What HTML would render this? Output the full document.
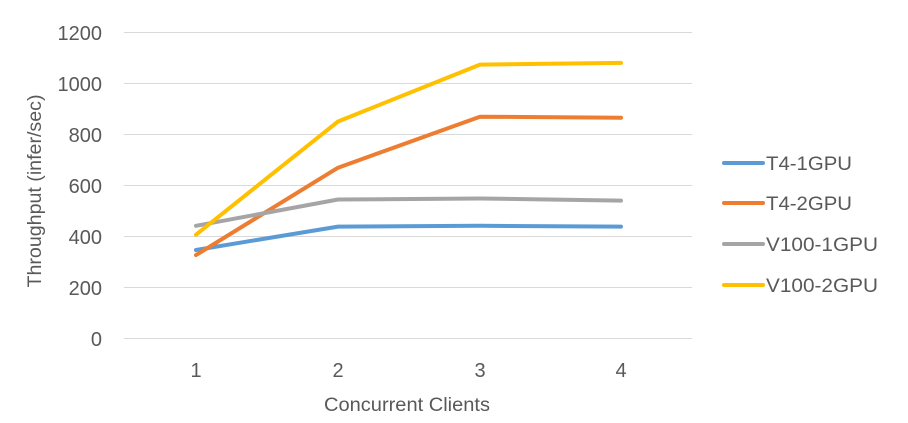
<!DOCTYPE html>
<html><head><meta charset="utf-8"><style>
html,body{margin:0;padding:0;background:#fff;}
svg{display:block;font-family:"Liberation Sans",sans-serif;}
</style></head><body>
<svg width="908" height="423" viewBox="0 0 908 423">
<g stroke="#d9d9d9" stroke-width="1">
<line x1="124" x2="692" y1="32.5" y2="32.5"/>
<line x1="124" x2="692" y1="83.5" y2="83.5"/>
<line x1="124" x2="692" y1="134.5" y2="134.5"/>
<line x1="124" x2="692" y1="185.5" y2="185.5"/>
<line x1="124" x2="692" y1="236.5" y2="236.5"/>
<line x1="124" x2="692" y1="287.5" y2="287.5"/>
<line x1="124" x2="692" y1="338.5" y2="338.5"/>
</g>
<g fill="#595959" font-size="20" text-anchor="end">
<text x="102" y="40">1200</text>
<text x="102" y="91">1000</text>
<text x="102" y="142">800</text>
<text x="102" y="193">600</text>
<text x="102" y="244">400</text>
<text x="102" y="295">200</text>
<text x="102" y="346">0</text>
</g>
<g fill="#595959" font-size="20" text-anchor="middle">
<text x="196" y="377">1</text>
<text x="338" y="377">2</text>
<text x="480" y="377">3</text>
<text x="621" y="377">4</text>
<text x="407" y="411" font-size="19" textLength="166" lengthAdjust="spacingAndGlyphs">Concurrent Clients</text>
<text transform="translate(41,191) rotate(-90)" font-size="19" textLength="193" lengthAdjust="spacingAndGlyphs">Throughput (infer/sec)</text>
</g>
<g fill="none" stroke-width="4" stroke-linecap="round" stroke-linejoin="round">
<polyline stroke="#5b9bd5" points="196,250 338,226.6 480,225.8 621,226.6"/>
<polyline stroke="#ed7d31" points="196,255.1 338,167.7 480,116.7 621,117.7"/>
<polyline stroke="#a5a5a5" points="196,225.8 338,199.5 480,198.5 621,200.6"/>
<polyline stroke="#ffc000" points="196,234.7 338,121.5 480,64.6 621,62.9"/>
</g>
<g stroke-width="4" stroke-linecap="round">
<line x1="724" x2="763" y1="163" y2="163" stroke="#5b9bd5"/>
<line x1="724" x2="763" y1="203" y2="203" stroke="#ed7d31"/>
<line x1="724" x2="763" y1="244" y2="244" stroke="#a5a5a5"/>
<line x1="724" x2="763" y1="285" y2="285" stroke="#ffc000"/>
</g>
<g fill="#595959" font-size="19">
<text x="766" y="170" textLength="86" lengthAdjust="spacingAndGlyphs">T4-1GPU</text>
<text x="766" y="210" textLength="86" lengthAdjust="spacingAndGlyphs">T4-2GPU</text>
<text x="766" y="251" textLength="112" lengthAdjust="spacingAndGlyphs">V100-1GPU</text>
<text x="766" y="292" textLength="112" lengthAdjust="spacingAndGlyphs">V100-2GPU</text>
</g>
</svg>
</body></html>
